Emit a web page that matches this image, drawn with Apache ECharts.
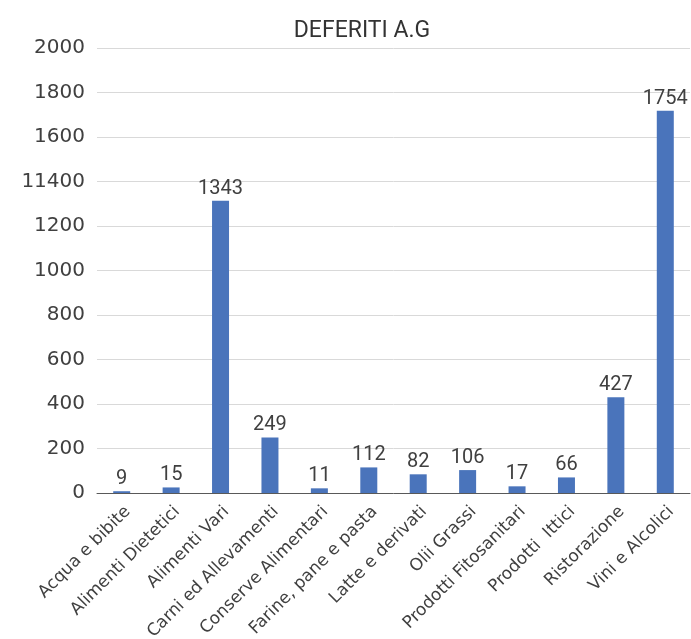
<!DOCTYPE html>
<html><head><meta charset="utf-8">
<script src="https://cdn.jsdelivr.net/npm/echarts@6/dist/echarts.min.js"></script>
<style>html,body{margin:0;padding:0;background:#fff}#c{width:691px;height:639px}</style>
</head><body><div id="c"></div>
<script>
var categories = ['Acqua e bibite','Alimenti Dietetici','Alimenti Vari','Carni ed Allevamenti','Conserve Alimentari','Farine, pane e pasta','Latte e derivati','Olii Grassi','Prodotti Fitosanitari','Prodotti  Ittici','Ristorazione','Vini e Alcolici'];
var barHeights = [8, 25, 1313, 250, 21, 115, 84, 103, 30, 70, 430, 1718];
var valueLabels = ['9','15','1343','249','11','112','82','106','17','66','427','1754'];
var tickValues = [0,200,400,600,800,1000,1200,1400,1600,1800,2000];
var tickLabels = ['0','200','400','600','800','1000','1200','11400','1600','1800','2000'];

var chart = echarts.init(document.getElementById('c'));
var txt = '#404040';
var font = 'DejaVu Sans';
chart.setOption({
  animation: false,
  title: {text: 'DEFERITI A.G', left: 357, top: 15, textAlign: 'center',
    textStyle: {fontFamily: 'Roboto', fontWeight: 'normal', fontSize: 23, color: '#333'}},
  grid: {left: 97, right: 1, top: 48, bottom: 146, containLabel: false, outerBoundsMode: 'none'},
  xAxis: {type: 'category', data: categories,
    axisLine: {lineStyle: {color: '#595959', width: 1}},
    axisTick: {show: false},
    axisLabel: {rotate: 45, interval: 0, margin: 10, verticalAlign: 'top', color: txt, fontFamily: font, fontSize: 17}},
  yAxis: {type: 'value', min: 0, max: 2000, interval: 200,
    axisLine: {show: false}, axisTick: {show: false},
    splitLine: {lineStyle: {color: '#d9d9d9'}},
    axisLabel: {margin: 12, color: txt, fontFamily: font, fontSize: 20,
      formatter: function(v){ var i = tickValues.indexOf(v); return i >= 0 ? tickLabels[i] : String(v); }}},
  series: [{type: 'bar', data: barHeights, barWidth: 17,
    itemStyle: {color: '#4a74bb'},
    label: {show: true, position: 'top', distance: 2, color: txt, fontFamily: 'Roboto', fontSize: 20,
      formatter: function(p){ return valueLabels[p.dataIndex]; }}}]
});
</script></body></html>
